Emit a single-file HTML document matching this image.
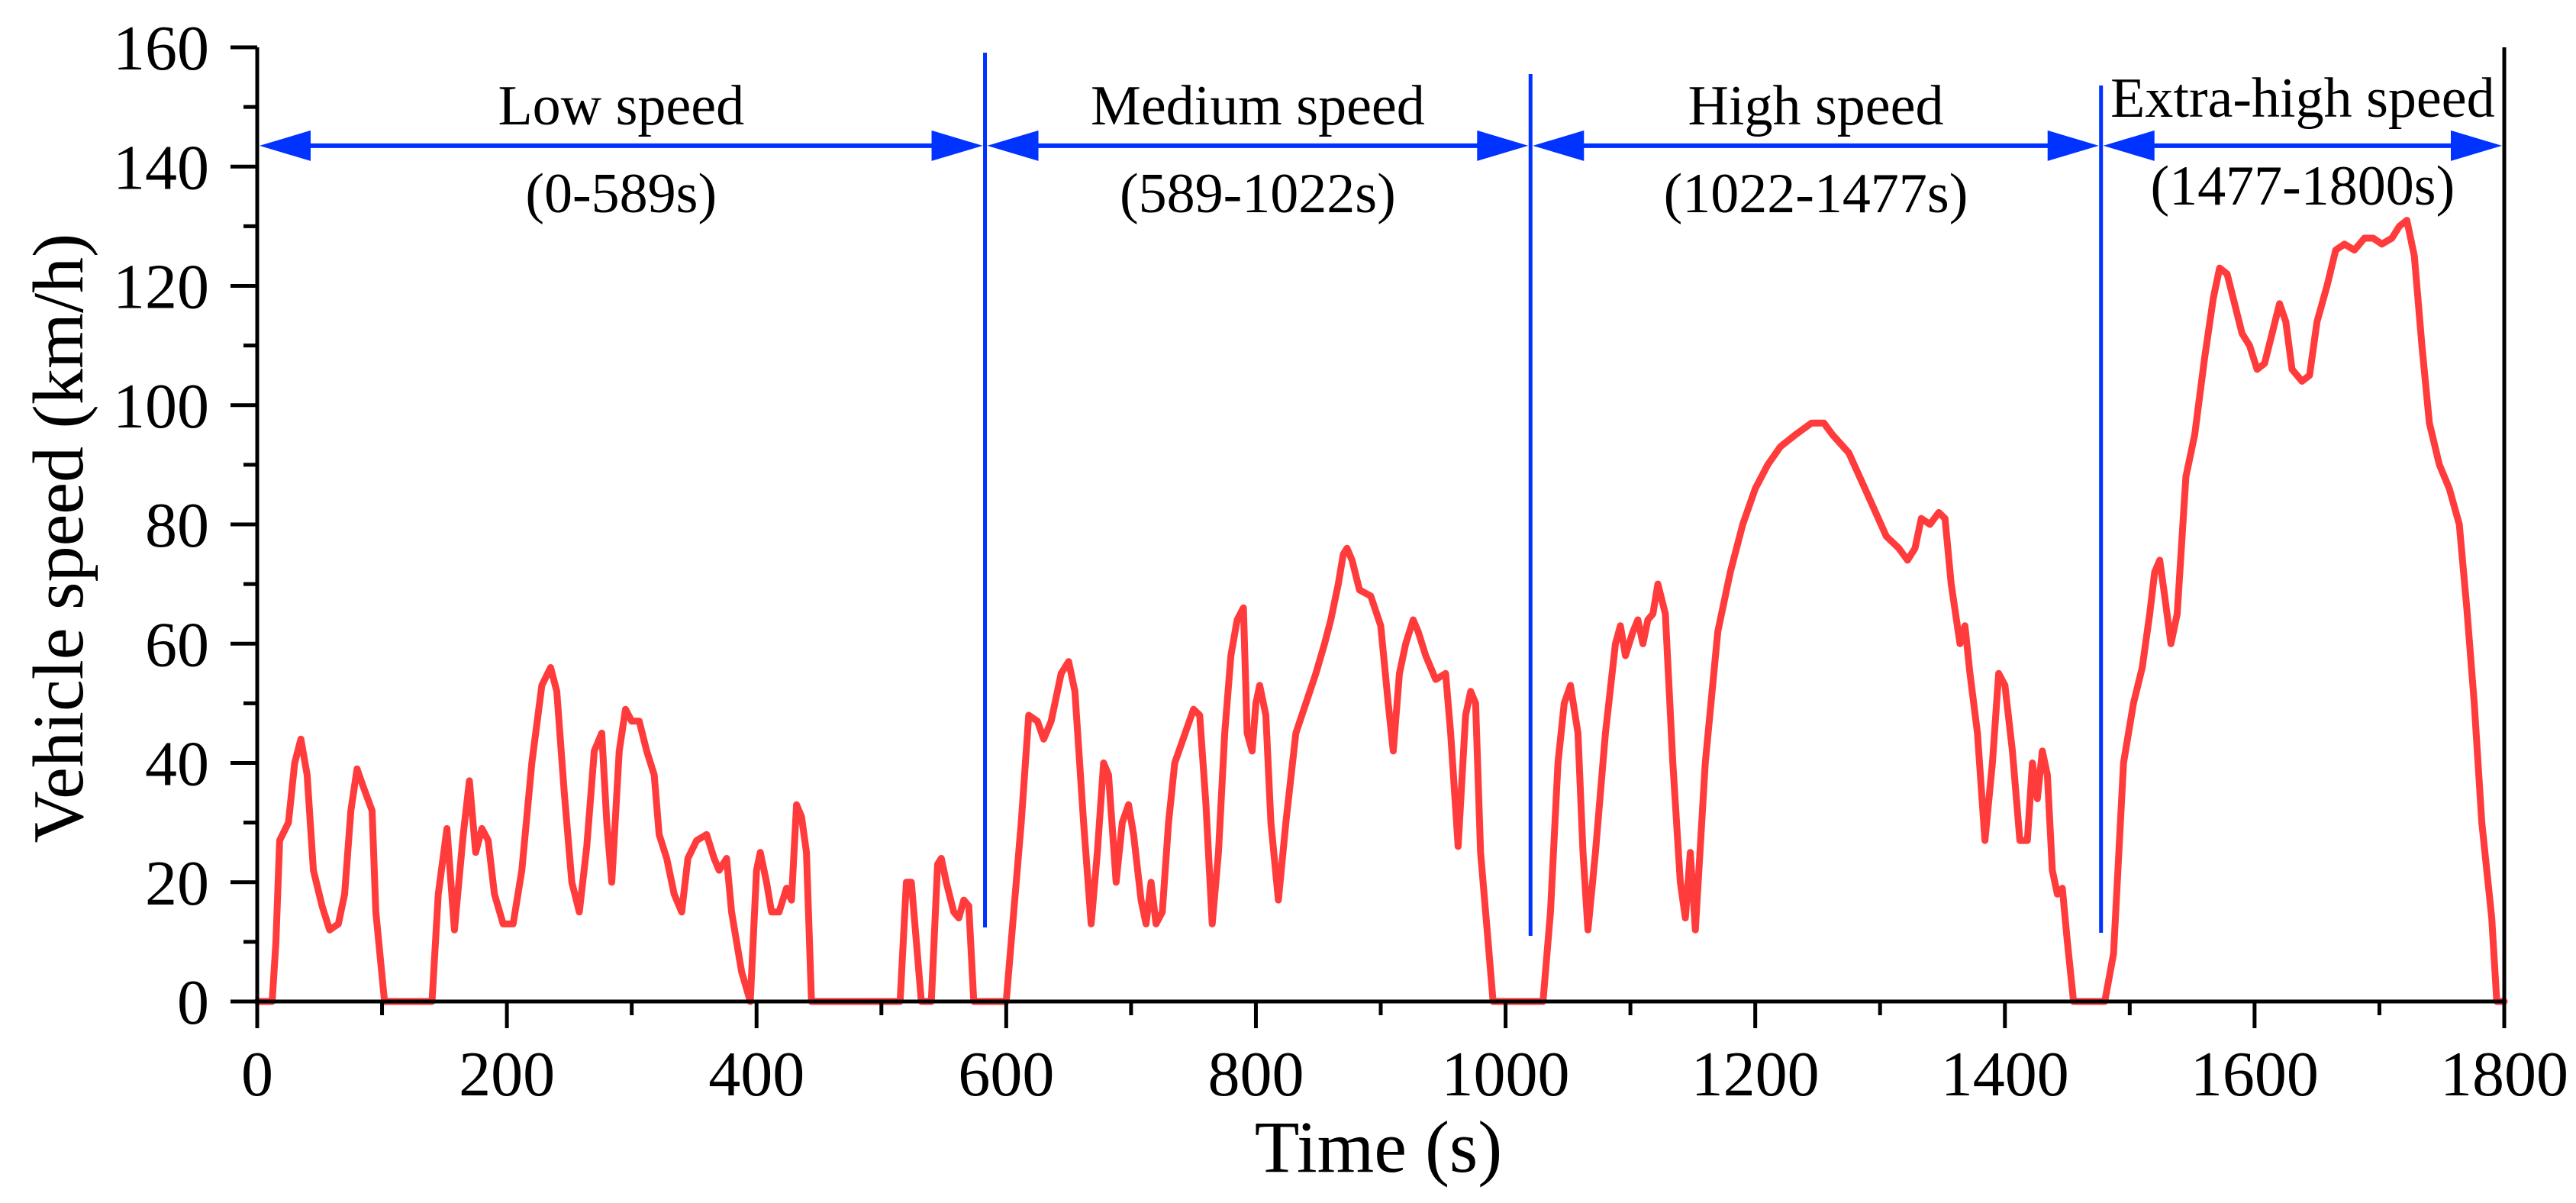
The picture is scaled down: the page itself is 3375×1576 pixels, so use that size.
<!DOCTYPE html>
<html><head><meta charset="utf-8"><style>
html,body{margin:0;padding:0;background:#fff;}
svg text{font-family:"Liberation Serif",serif;fill:#000;}
</style></head><body>
<svg id="chart" width="3375" height="1571" viewBox="0 0 3375 1571" xmlns="http://www.w3.org/2000/svg">
<g id="annot"></g>
<g id="series"></g>
<g id="axes"></g>
</svg>
<script>
const times = [0,12,15,18,25,30,35,40,45,52,58,65,70,75,80,85,92,95,102,140,145,152,158,165,170,175,180,185,190,197,205,212,220,228,235,240,246,252,258,264,270,276,280,284,290,295,300,306,312,318,322,328,334,340,345,352,360,366,370,376,380,388,395,400,403,408,412,418,424,428,432,436,440,444,515,520,524,528,532,540,545,548,552,558,562,566,570,574,589,
600,612,618,625,630,636,644,650,655,662,668,673,678,682,688,693,698,702,708,712,716,720,725,730,735,740,745,750,755,760,765,770,775,780,785,790,793,797,800,803,808,812,818,824,832,840,848,855,860,866,870,873,877,883,892,900,906,910,915,920,926,930,936,944,952,956,962,968,972,976,980,986,990,1022,
1030,1036,1042,1047,1052,1058,1062,1066,1072,1080,1088,1092,1096,1102,1106,1110,1114,1118,1122,1128,1134,1140,1144,1148,1152,1160,1170,1180,1190,1200,1210,1220,1232,1245,1255,1262,1275,1290,1305,1315,1322,1328,1333,1340,1347,1352,1357,1364,1368,1372,1378,1384,1390,1395,1400,1406,1412,1418,1422,1426,1430,1434,1438,1442,1446,1450,1455,1477,
1480,1487,1495,1503,1510,1516,1520,1524,1528,1533,1538,1545,1552,1560,1567,1572,1578,1584,1590,1596,1602,1608,1614,1620,1625,1630,1638,1644,1650,1658,1665,1672,1680,1688,1695,1702,1710,1716,1722,1728,1734,1740,1748,1756,1764,1770,1776,1782,1790,1794,1800];
const speeds = [0,0,10,27,30,40,44,38,22,16,12,13,18,32,39,36,32,15,0,0,18,29,12,28,37,25,29,27,18,13,13,22,40,53,56,52,35,20,15,26,42,45,30,20,42,49,47,47,42,38,28,24,18,15,24,27,28,24,22,24,15,5,0,22,25,20,15,15,19,17,33,31,25,0,0,20,20,10,0,0,23,24,20,15,14,17,16,0,0,
0,30,48,47,44,47,55,57,52,30,13,25,40,38,20,30,33,28,17,13,20,13,15,30,40,43,46,49,48,33,13,25,45,58,64,66,45,42,50,53,48,30,17,30,45,50,55,60,64,70,75,76,74,69,68,63,50,42,55,60,64,62,58,54,55,45,26,48,52,50,25,10,0,0,
0,15,40,50,53,45,25,12,25,45,60,63,58,62,64,60,64,65,70,65,40,20,14,25,12,40,62,72,80,86,90,93,95,97,97,95,92,85,78,76,74,76,81,80,82,81,70,60,63,55,45,27,40,55,53,42,27,27,40,34,42,38,22,18,19,10,0,0,
0,8,40,50,56,65,72,74,68,60,65,88,95,108,118,123,122,117,112,110,106,107,112,117,114,106,104,105,114,120,126,127,126,128,128,127,128,130,131,125,110,97,90,86,80,66,50,30,14,0,0];
const xTicks = [0,200,400,600,800,1000,1200,1400,1600,1800];
const yTicks = [0,20,40,60,80,100,120,140,160];
const phaseBounds = [0,583,1020,1477,1800];
const phaseNames = ["Low speed","Medium speed","High speed","Extra-high speed"];
const phaseRanges = ["(0-589s)","(589-1022s)","(1022-1477s)","(1477-1800s)"];

const NS="http://www.w3.org/2000/svg";
const X0=337,X1=3281,Y0=1312,Y1=62;
const sx=t=>X0+(t-0)/(1800-0)*(X1-X0);
const sy=v=>Y0-(v-0)/(160-0)*(Y0-Y1);
function mk(tag,attrs,parent){const e=document.createElementNS(NS,tag);for(const k in attrs)e.setAttribute(k,attrs[k]);parent.appendChild(e);return e;}
const axes=document.getElementById('axes'),series=document.getElementById('series'),annot=document.getElementById('annot');

let d=times.map((t,i)=>(i?'L':'M')+sx(t).toFixed(1)+','+sy(speeds[i]).toFixed(1)).join(' ');
const line=mk('path',{d:d,fill:'none',stroke:'#ff3b3b','stroke-width':9,'stroke-linejoin':'round','stroke-linecap':'round'},series);



const ax=mk('path',{d:`M${X0},${Y1} L${X0},${Y0} L${X1},${Y0} L${X1},${Y1}`,fill:'none',stroke:'#000','stroke-width':5},axes);


xTicks.forEach((t,i)=>{
  mk('line',{x1:sx(t),x2:sx(t),y1:Y0,y2:Y0+35,stroke:'#000','stroke-width':5},axes);
  if(i<xTicks.length-1){const m=(t+xTicks[i+1])/2;mk('line',{x1:sx(m),x2:sx(m),y1:Y0,y2:Y0+18,stroke:'#000','stroke-width':5},axes);}
  const tx=mk('text',{x:sx(t),y:1435,'font-size':84,'text-anchor':'middle'},axes);tx.textContent=t;
  
  
});
yTicks.forEach((v,i)=>{
  mk('line',{x1:X0-35,x2:X0,y1:sy(v),y2:sy(v),stroke:'#000','stroke-width':5},axes);
  if(i<yTicks.length-1){const m=(v+yTicks[i+1])/2;mk('line',{x1:X0-18,x2:X0,y1:sy(m),y2:sy(m),stroke:'#000','stroke-width':5},axes);}
  const tx=mk('text',{x:274,y:sy(v)+29,'font-size':84,'text-anchor':'end'},axes);tx.textContent=v;
  
  
});
const xt=mk('text',{x:1806,y:1535,'font-size':96,'text-anchor':'middle'},axes);xt.textContent='Time (s)';


const yt=mk('text',{x:0,y:0,'font-size':94,'text-anchor':'middle',transform:'translate(108,705) rotate(-90)'},axes);yt.textContent='Vehicle speed (km/h)';



const lineTops=[69,97,112,92],lineBots=[1215,1226,1222,1210];
const AY=sy(143.5);
for(let i=1;i<phaseBounds.length-1;i++){
  const vl=mk('line',{x1:sx(phaseBounds[i]),x2:sx(phaseBounds[i]),y1:lineTops[i-1],y2:lineBots[i-1],stroke:'#0033ff','stroke-width':5},annot);
  
  
}
phaseNames.forEach((n,i)=>{
  const a=sx(phaseBounds[i]),b=sx(phaseBounds[i+1]);
  mk('line',{x1:a+60,x2:b-60,y1:AY,y2:AY,stroke:'#0033ff','stroke-width':6},annot);
  const h1=mk('polygon',{points:`${a+3},${AY} ${a+70},${AY-20} ${a+70},${AY+20}`,fill:'#0033ff'},annot);
  
  
  const h2=mk('polygon',{points:`${b-3},${AY} ${b-70},${AY-20} ${b-70},${AY+20}`,fill:'#0033ff'},annot);
  
  
  const c=(a+b)/2;
  const off=i===3?-10:0;
  const t1=mk('text',{x:c,y:163+off,'font-size':74,'text-anchor':'middle'},annot);t1.textContent=n;
  
  
  const t2=mk('text',{x:c,y:278+off,'font-size':74,'text-anchor':'middle'},annot);t2.textContent=phaseRanges[i];
  
  
});
</script>
</body></html>
